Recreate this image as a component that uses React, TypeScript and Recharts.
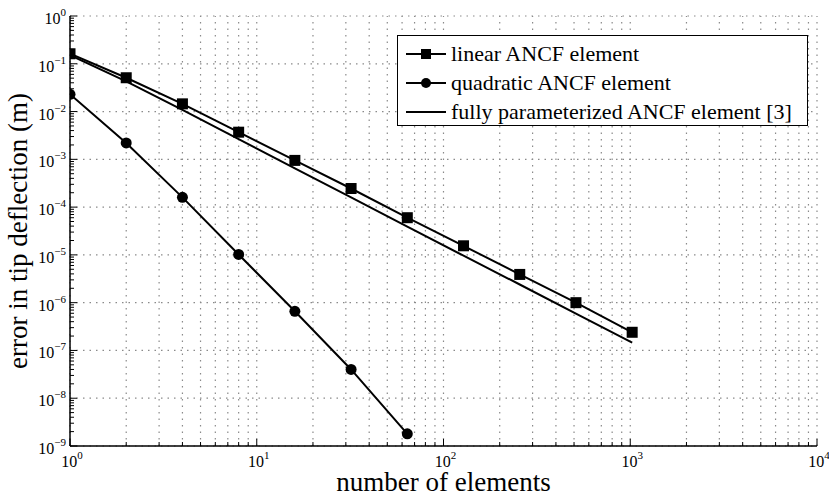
import React from "react";
import {
  LineChart,
  Line,
  XAxis,
  YAxis,
  ReferenceLine,
  Legend,
} from "recharts";

// number of elements (x) and tip deflection errors (m)
const elements = [1, 2, 4, 8, 16, 32, 64, 128, 256, 512, 1024];
const linearErr = [0.162, 0.051, 0.0145, 3.7e-3, 9.5e-4, 2.45e-4, 6.0e-5, 1.55e-5, 3.9e-6, 1.0e-6, 2.4e-7];
const quadraticErr = [0.023, 2.2e-3, 1.6e-4, 1.02e-5, 6.6e-7, 4.0e-8, 1.8e-9];
const fullErr = [0.152, 0.043, 0.0108, 2.65e-3, 6.5e-4, 1.6e-4, 3.9e-5, 9.6e-6, 2.4e-6, 5.9e-7, 1.45e-7];

const xMajor = [1, 10, 100, 1000, 10000];
const yMajor = [1e-9, 1e-8, 1e-7, 1e-6, 1e-5, 1e-4, 1e-3, 1e-2, 1e-1, 1];
const xExp = [0, 1, 2, 3, 4];
const yExp = [-9, -8, -7, -6, -5, -4, -3, -2, -1, 0];

const seriesNames = [
  "linear ANCF element",
  "quadratic ANCF element",
  "fully parameterized ANCF element [3]",
];

const data = elements.map((n, i) => ({
  n,
  linear: linearErr[i],
  quadratic: quadraticErr[i],
  full: fullErr[i],
}));

// minor positions 2..9 within each decade
const minorOf = (majors: number[]) => {
  const out: number[] = [];
  majors.slice(0, -1).forEach((m) => {
    for (let k = 1; k <= 9; k++) out.push(m * k);
  });
  out.push(majors[majors.length - 1]);
  return out;
};
const xTicks = minorOf(xMajor);
const yTicks = minorOf(yMajor);

const FONT = '"Liberation Serif", "Times New Roman", serif';
const GRID = "#8a8a8a";

const majorIndex = (v: number, majors: number[]) =>
  majors.findIndex((m) => Math.abs(v / m - 1) < 1e-6);

const XTick = ({ x, y, payload }: any) => {
  const idx = majorIndex(payload.value, xMajor);
  const len = idx >= 0 ? 7 : 4;
  return (
    <g>
      <line x1={x} x2={x} y1={y} y2={y - len} stroke="#000" strokeWidth={1} />
      {idx >= 0 && (
        <text x={x + 2} y={y + 21} textAnchor="middle" fontFamily={FONT} fontSize={16} fill="#000">
          <tspan>10</tspan>
          <tspan dy={-8} fontSize={11}>{xExp[idx]}</tspan>
        </text>
      )}
    </g>
  );
};

const YTick = ({ x, y, payload }: any) => {
  const idx = majorIndex(payload.value, yMajor);
  const len = idx >= 0 ? 7 : 4;
  return (
    <g>
      <line x1={x} x2={x + len} y1={y} y2={y} stroke="#000" strokeWidth={1} />
      {idx >= 0 && (
        <text x={x - 4} y={y + 8} textAnchor="end" fontFamily={FONT} fontSize={16} fill="#000">
          <tspan>10</tspan>
          <tspan dy={-8} fontSize={11}>{yExp[idx] < 0 ? "\u2212" + -yExp[idx] : yExp[idx]}</tspan>
        </text>
      )}
    </g>
  );
};

const LegendBox = () => {
  const markers = ["square", "circle", "none"];
  return (
    <div
      style={{
        border: "1.5px solid #000",
        background: "#fff",
        width: 411,
        height: 91,
        boxSizing: "border-box",
        padding: "3px 0 0 7px",
        fontFamily: FONT,
        fontSize: 22,
        color: "#000",
      }}
    >
      {seriesNames.map((name, i) => (
        <div key={name} style={{ display: "flex", alignItems: "center", height: 29 }}>
          <svg width={46} height={20} style={{ flex: "none" }}>
            <line x1={1} x2={41} y1={10} y2={10} stroke="#000" strokeWidth={2} />
            {markers[i] === "square" && <rect x={16} y={5} width={10} height={10} fill="#000" />}
            {markers[i] === "circle" && <circle cx={21} cy={10} r={5} fill="#000" />}
          </svg>
          <span style={{ whiteSpace: "nowrap" }}>{name}</span>
        </div>
      ))}
    </div>
  );
};

const Square = ({ cx, cy }: any) =>
  cx == null || cy == null ? null : <rect x={cx - 5.5} y={cy - 5.5} width={11} height={11} fill="#000" />;

export default function App() {
  return (
    <div style={{ position: "absolute", left: 0, top: 0, width: 829, height: 496, background: "#fff" }}>
      <LineChart width={829} height={496} data={data} margin={{ top: 16, right: 12, left: 0, bottom: 0 }}>
        {xTicks.map((v) => (
          <ReferenceLine key={"gx" + v} x={v} stroke={GRID} strokeWidth={1.2} strokeDasharray="1.5 5" />
        ))}
        {yMajor.map((v) => (
          <ReferenceLine key={"gy" + v} y={v} stroke={GRID} strokeWidth={1.2} strokeDasharray="1.5 5" />
        ))}
        <XAxis
          dataKey="n"
          type="number"
          scale="log"
          domain={[1, 10000]}
          ticks={xTicks}
          interval={0}
          allowDataOverflow
          height={50}
          tickSize={0}
          tickMargin={0}
          tick={<XTick />}
          axisLine={{ stroke: "#000", strokeWidth: 1.5 }}
          label={{
            content: (p: any) => {
              const vb = p.viewBox || {};
              return (
                <text x={vb.x + vb.width / 2} y={491} textAnchor="middle" fontFamily={FONT} fontSize={27} fill="#000">
                  number of elements
                </text>
              );
            },
          }}
        />
        <YAxis
          type="number"
          scale="log"
          domain={[1e-9, 1]}
          ticks={yTicks}
          interval={0}
          allowDataOverflow
          width={70}
          tickSize={0}
          tickMargin={0}
          tick={<YTick />}
          axisLine={{ stroke: "#000", strokeWidth: 1.5 }}
          label={{
            content: (p: any) => {
              const vb = p.viewBox || {};
              const cy = vb.y + vb.height / 2;
              return (
                <text x={27} y={cy} transform={`rotate(-90 27 ${cy})`} textAnchor="middle" fontFamily={FONT} fontSize={27} fill="#000">
                  error in tip deflection (m)
                </text>
              );
            },
          }}
        />
        <Legend
          layout="horizontal"
          verticalAlign="middle"
          align="center"
          wrapperStyle={{ left: 397, top: 35, width: 411 }}
          content={() => <LegendBox />}
        />
        <Line
          dataKey="full"
          stroke="#000"
          strokeWidth={2}
          dot={false}
          activeDot={false}
          isAnimationActive={false}
        />
        <Line
          dataKey="linear"
          stroke="#000"
          strokeWidth={2}
          dot={<Square />}
          activeDot={false}
          isAnimationActive={false}
        />
        <Line
          dataKey="quadratic"
          stroke="#000"
          strokeWidth={2}
          dot={{ r: 5.5, fill: "#000", stroke: "none" }}
          activeDot={false}
          isAnimationActive={false}
        />
      </LineChart>
    </div>
  );
}
